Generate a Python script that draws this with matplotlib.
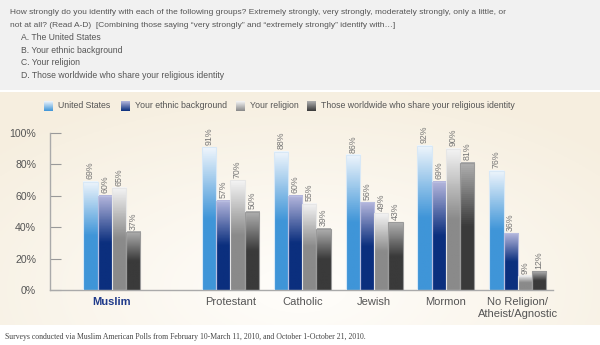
import matplotlib
matplotlib.use("Agg")
import matplotlib.pyplot as plt
import numpy as np
from matplotlib.colors import LinearSegmentedColormap
from matplotlib.patches import Rectangle

plt.rcParams['font.family'] = ['Liberation Sans', 'DejaVu Sans']

groups = ["Muslim", "Protestant", "Catholic", "Jewish", "Mormon", "No Religion/\nAtheist/Agnostic"]
series = ["United States", "Your ethnic background", "Your religion",
          "Those worldwide who share your religious identity"]
us = [69, 91, 88, 86, 92, 76]
ethnic = [60, 57, 60, 56, 69, 36]
religion = [65, 70, 55, 49, 90, 9]
worldwide = [37, 50, 39, 43, 81, 12]
yticks = [0, 20, 40, 60, 80, 100]
ytick_labels = ["0%", "20%", "40%", "60%", "80%", "100%"]

question = ["How strongly do you identify with each of the following groups? Extremely strongly, very strongly, moderately strongly, only a little, or",
            "not at all? (Read A-D)  [Combining those saying \u201cvery strongly\u201d and \u201cextremely strongly\u201d identify with\u2026]"]
items = ["A. The United States", "B. Your ethnic background", "C. Your religion",
         "D. Those worldwide who share your religious identity"]
footer = "Surveys conducted via Muslim American Polls from February 10-March 11, 2010, and October 1-October 21, 2010."

# gradient (top, bottom) colours per series
grads = [("#eef5fc", "#3f95d8"), ("#b4b6dc", "#0b2f7e"), ("#f4f4f4", "#8a8a8a"), ("#b0b0b0", "#3a3a3a")]
edges = ["#d8e8f6", "#b8bde0", "#e6e6e6", "#9a9a9a"]

W, H = 600, 345
fig = plt.figure(figsize=(W / 100, H / 100), dpi=100)
fig.patch.set_facecolor("white")

# background panels
fig.add_artist(Rectangle((0, 1 - 90 / H), 1, 90 / H, transform=fig.transFigure,
                         facecolor="#f1f1f1", edgecolor="none", zorder=0))
bg = fig.add_axes([0, 1 - 325 / H, 1, (325 - 92) / H], zorder=0)
yy, xx = np.mgrid[0:1:120j, 0:1:200j]
r = np.sqrt(((xx - 0.5) / 0.7) ** 2 + ((yy - 0.85) / 0.9) ** 2)
c_in = np.array([1.0, 0.995, 0.985])
c_out = np.array([0.965, 0.935, 0.875])
t = np.clip(r, 0, 1)[..., None]
bg.imshow(c_in * (1 - t) + c_out * t, aspect="auto", extent=[0, 1, 0, 1], origin="upper")
bg.set_axis_off()

for i, line in enumerate(question):
    fig.text(10 / W, 1 - (12 + i * 13.5) / H, line, fontsize=6.0, color="#555555", va="center")
for i, s in enumerate(items):
    fig.text(21 / W, 1 - (37.5 + i * 12.7) / H, s, fontsize=6.2, color="#555555", va="center")
fig.text(5 / W, 1 - 337 / H, footer, fontsize=5.6, color="#444444", va="center",
         family="Liberation Serif")

ax = fig.add_axes([50 / W, 55 / H, (553 - 50) / W, (290 - 133) / H], zorder=2)
ax.set_facecolor("none")
pos = np.array([0, 1.65, 2.65, 3.65, 4.65, 5.65])
bw = 0.198
data = [us, ethnic, religion, worldwide]
for k, vals in enumerate(data):
    cmap = LinearSegmentedColormap.from_list("g%d" % k, [grads[k][1], grads[k][1], grads[k][0]])
    xs = pos + (k - 1.5) * bw
    bars = ax.bar(xs, vals, width=bw, color="none", edgecolor=edges[k], linewidth=0.8, zorder=3)
    for b, v in zip(bars, vals):
        x0, w, h = b.get_x(), b.get_width(), b.get_height()
        grad = np.linspace(0, 1, 64).reshape(-1, 1)
        ax.imshow(grad, cmap=cmap, aspect="auto", origin="lower",
                  extent=[x0, x0 + w, 0, h], zorder=2)
        ax.text(x0 + w / 2, h + 1.5, "%d%%" % v, rotation=90, ha="center", va="bottom",
                fontsize=6.3, color="#777777")

ax.set_xlim(-0.86, 6.14)
ax.set_ylim(0, 100)
ax.set_yticks(yticks)
ax.set_yticklabels(ytick_labels)
ax.set_xticks(pos)
ax.set_xticklabels(groups)
for lbl in ax.get_xticklabels():
    lbl.set_color("#555555")
    lbl.set_fontsize(8)
ax.get_xticklabels()[0].set_color("#1f3a8a")
ax.get_xticklabels()[0].set_fontweight("bold")
ax.tick_params(axis="x", length=0, pad=5)
ax.tick_params(axis="y", direction="in", length=8, color="#999999", labelsize=7.6,
               labelcolor="#555555", pad=10, width=0.8)
for s in ["top", "right"]:
    ax.spines[s].set_visible(False)
for s in ["left", "bottom"]:
    ax.spines[s].set_color("#aaaaaa")
    ax.spines[s].set_linewidth(1.0)

# legend
leg_x = [44, 121, 236, 307]
for k, s in enumerate(series):
    x0 = leg_x[k] / W
    y0 = 1 - 111 / H
    cmap = LinearSegmentedColormap.from_list("l%d" % k, [grads[k][1], grads[k][0]])
    lax = fig.add_axes([x0, y0, 9 / W, 10 / H], zorder=3)
    lax.imshow(np.linspace(0, 1, 32).reshape(-1, 1), cmap=cmap, aspect="auto", origin="lower")
    lax.set_axis_off()
    fig.text(x0 + 14 / W, y0 + 5 / H, s, fontsize=6.3, color="#555555", va="center")

fig.savefig("out.png", dpi=100)
